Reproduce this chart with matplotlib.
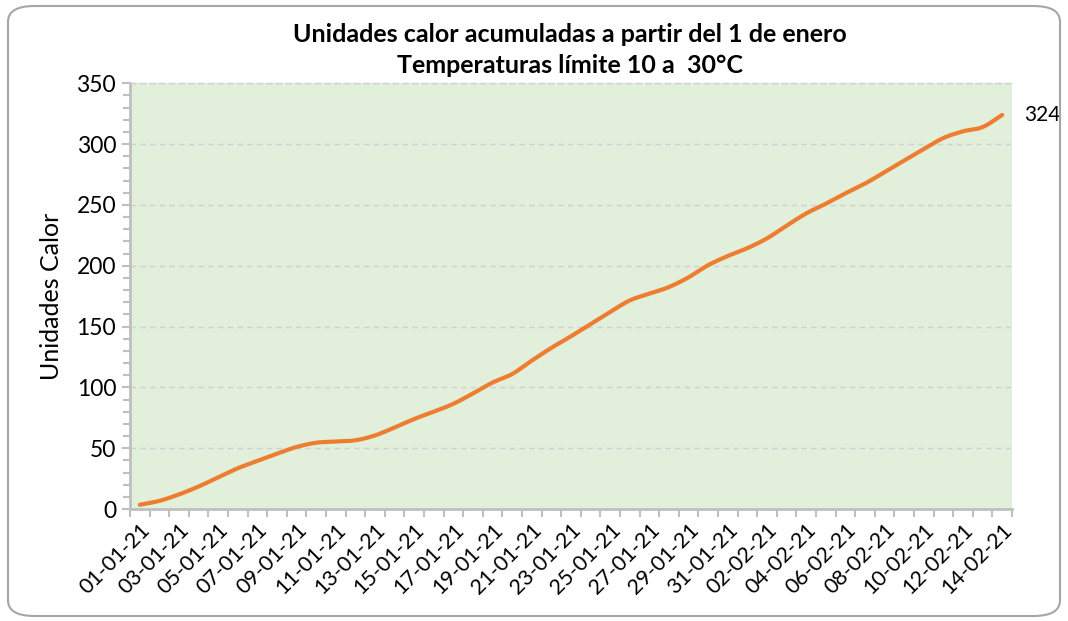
import matplotlib
matplotlib.use("Agg")
import matplotlib.pyplot as plt
from matplotlib.patches import FancyBboxPatch
import numpy as np
from datetime import date, timedelta

plt.rcParams['font.family'] = ['Lato', 'DejaVu Sans']

start = date(2021, 1, 1)
n_days = 45
dates = [start + timedelta(days=i) for i in range(n_days)]
date_labels = [d.strftime("%d-%m-%y") for d in dates]

heat_units = [3.5, 6.7, 12, 18.5, 26, 33.5, 39.5, 45.5, 51, 54.5,
              55.5, 56.5, 60.5, 67, 74, 80, 86.5, 95, 104, 111,
              122, 132.5, 142, 152, 162, 171.5, 177, 182.5, 190.5, 200.5,
              208, 214.5, 222.5, 233, 243, 251, 259.5, 267.5, 277, 286.5,
              296, 305, 310.5, 314, 324]

title = "Unidades calor acumuladas a partir del 1 de enero\nTemperaturas límite 10 a  30°C"
ylabel = "Unidades Calor"


def catmull_rom(xs, ys, steps=12):
    """Smoothed line through the data points (like Excel's smoothed line)."""
    xs = np.asarray(xs, float)
    ys = np.asarray(ys, float)
    px = np.concatenate([[2 * xs[0] - xs[1]], xs, [2 * xs[-1] - xs[-2]]])
    py = np.concatenate([[2 * ys[0] - ys[1]], ys, [2 * ys[-1] - ys[-2]]])
    out_x, out_y = [], []
    t = np.linspace(0, 1, steps, endpoint=False)
    for i in range(1, len(px) - 2):
        for arr, out in ((px, out_x), (py, out_y)):
            p0, p1, p2, p3 = arr[i - 1], arr[i], arr[i + 1], arr[i + 2]
            out.extend(0.5 * ((2 * p1) + (-p0 + p2) * t
                              + (2 * p0 - 5 * p1 + 4 * p2 - p3) * t ** 2
                              + (-p0 + 3 * p1 - 3 * p2 + p3) * t ** 3))
    out_x.append(xs[-1])
    out_y.append(ys[-1])
    return out_x, out_y


fig = plt.figure(figsize=(10.68, 6.21), dpi=100)
fig.patch.set_facecolor("white")

border = FancyBboxPatch((8/1068, 5/621), 1052/1068, 610/621,
                        boxstyle="round,pad=0,rounding_size=0.025",
                        transform=fig.transFigure, facecolor="none",
                        edgecolor="#A6A6A6", linewidth=1.5)
fig.patches.append(border)

ax = fig.add_axes([130/1068, 1 - 509/621, 882/1068, (509 - 83.3)/621])
ax.set_facecolor("#E2EFDA")

x = list(range(n_days))
sx, sy = catmull_rom(x, heat_units)
ax.plot(sx, sy, color="#ED7D31", linewidth=3, solid_capstyle="round", zorder=3)

ax.set_xlim(-0.5, n_days - 0.5)
ax.set_ylim(0, 350)
ax.set_yticks(range(0, 351, 50))
ax.set_yticks(range(0, 351, 10), minor=True)
ax.tick_params(axis="y", which="major", labelsize=16.5, length=6, width=1.5,
               color="#BFBFBF", pad=4, labelcolor="#000000")
ax.tick_params(axis="y", which="minor", length=5, width=1.5, color="#BFBFBF")

ax.set_xticks(x[::2])
ax.set_xticklabels(date_labels[::2], rotation=45, ha="right",
                   rotation_mode="anchor", fontsize=15.5)
ax.set_xticks([i - 0.5 for i in range(n_days + 1)], minor=True)
ax.tick_params(axis="x", which="major", length=0, pad=8)
ax.tick_params(axis="x", which="minor", length=6, width=1.5, color="#BFBFBF")

ax.grid(axis="y", which="major", linestyle=(0, (4, 3)), color="#D0D0D8",
        linewidth=1)
ax.set_axisbelow(True)

ax.spines["right"].set_visible(False)
ax.spines["top"].set_linestyle((0, (4, 3)))
ax.spines["top"].set_color("#D0D0D8")
ax.spines["top"].set_linewidth(1)
ax.spines["left"].set_color("#BFBFBF")
ax.spines["left"].set_linewidth(2)
ax.spines["bottom"].set_color("#BFBFBF")
ax.spines["bottom"].set_linewidth(2)

ax.set_ylabel(ylabel, fontsize=18, labelpad=10)

ax.annotate(f"{heat_units[-1]:.0f}", xy=(x[-1], heat_units[-1]),
            xytext=(16, 0), textcoords="offset points", fontsize=15,
            va="center", ha="left", annotation_clip=False)

fig.text(570/1068, 1 - 50/621, title, ha="center", va="center",
         fontsize=18, fontweight="bold", linespacing=1.45)

fig.savefig("out.png", dpi=100)
